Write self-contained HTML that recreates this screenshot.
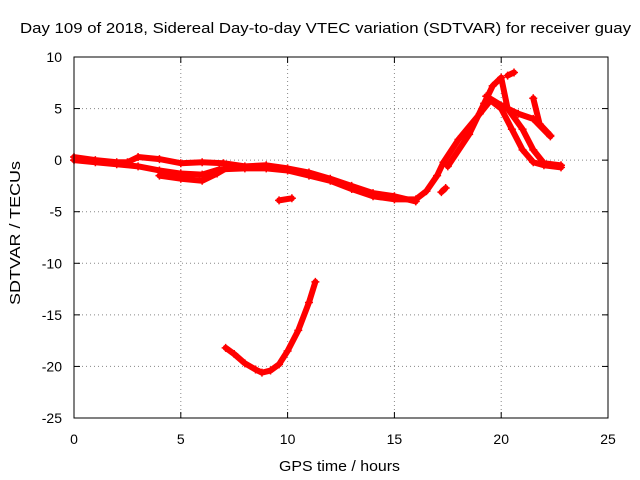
<!DOCTYPE html>
<html><head><meta charset="utf-8"><style>
body{margin:0;background:#fff}
svg{display:block;font-family:"Liberation Sans",sans-serif}
</style></head><body>
<svg id="chart" width="640" height="480" xmlns="http://www.w3.org/2000/svg">
<text x="20" y="33" font-size="14.5" textLength="611" lengthAdjust="spacingAndGlyphs">Day 109 of 2018, Sidereal Day-to-day VTEC variation (SDTVAR) for receiver guay</text>
<text x="279" y="471" font-size="14.5" textLength="121" lengthAdjust="spacingAndGlyphs">GPS time / hours</text>
<text x="0" y="0" font-size="14.5" textLength="144" lengthAdjust="spacingAndGlyphs" transform="translate(20 305) rotate(-90)">SDTVAR / TECUs</text>
<g id="grid"></g><g id="axes"></g><g id="series"></g>
<rect x="74" y="57" width="534" height="361" fill="none" stroke="#000" stroke-width="1"/>
</svg>
<script>
const xTicks=[0,5,10,15,20,25];
const yTicks=[10,5,0,-5,-10,-15,-20,-25];
const trackMain=[[0,0],[1,-0.2],[2,-0.4],[3,-0.6],[4,-1.0],[5,-1.3],[6,-1.4],[6.8,-0.9],[8,-0.8],[9,-0.8],[10,-1.0],[11,-1.5],[12,-2.0],[13,-2.8],[14,-3.5],[15,-3.8],[16,-3.8],[16.5,-3],[17,-1.5],[17.3,-0.2]];
const trackUpper=[[0,0.3],[1,0],[2,-0.2],[2.5,-0.2],[3,0.3],[4,0.1],[5,-0.3],[6,-0.2],[7,-0.3],[8,-0.6],[9,-0.5],[10,-0.8],[11,-1.2],[12,-1.8],[13,-2.5],[14,-3.2],[15,-3.5],[16,-4.0]];
const trackLower=[[4,-1.5],[5,-1.8],[6,-2.0],[6.7,-1.3],[7.2,-0.7]];
const trackShort=[[9.6,-3.9],[10.2,-3.7]];
const trackShort2=[[17.2,-3.1],[17.4,-2.7]];
const trackRise1=[[17.3,-0.2],[18,2],[19,4.5],[19.5,5.8],[20,5],[20.5,3],[21,1],[21.5,-0.2],[22,-0.5],[22.8,-0.7]];
const trackRise2=[[17.5,-0.6],[18.5,2.5],[19.2,5.5],[19.6,7.2],[20,8],[20.3,5],[21,3],[21.5,1],[22,-0.3],[22.8,-0.5]];
const trackRise3=[[19.3,6.2],[20.1,5.2],[20.8,4.5],[21.5,4.0],[22.3,2.3]];
const trackRise4=[[20.3,8.2],[20.6,8.5]];
const trackRise5=[[21.5,6],[21.8,3.5],[22.3,2.4]];
const trackCurve=[[7.1,-18.2],[7.5,-18.8],[8,-19.7],[8.5,-20.3],[8.8,-20.6],[9.2,-20.4],[9.6,-19.8],[10,-18.5],[10.5,-16.5],[11,-13.8],[11.3,-11.8]];
const tracks=[trackMain,trackUpper,trackLower,trackShort,trackShort2,trackRise1,trackRise2,trackRise3,trackRise4,trackRise5,trackCurve];
const X=v=>74+v*534/25, Y=v=>57+(10-v)*361/35;
const NS="http://www.w3.org/2000/svg";
const grid=document.getElementById('grid'),axes=document.getElementById('axes'),ser=document.getElementById('series');
function mk(t,a,p){const e=document.createElementNS(NS,t);for(const k in a)e.setAttribute(k,a[k]);p.appendChild(e);return e;}
xTicks.forEach(t=>{
 if(t>0&&t<25){const g=mk('line',{x1:X(t),x2:X(t),y1:57,y2:418,stroke:'#888','stroke-dasharray':'1,3'},grid);
 
 }
 const l=mk('text',{x:X(t),y:444,'font-size':14,'text-anchor':'middle'},axes);l.textContent=t;
 
 
 mk('line',{x1:X(t),x2:X(t),y1:418,y2:412,stroke:'#000'},axes);mk('line',{x1:X(t),x2:X(t),y1:57,y2:63,stroke:'#000'},axes);
});
yTicks.forEach(t=>{
 if(t<10&&t>-25){const g=mk('line',{x1:74,x2:608,y1:Y(t),y2:Y(t),stroke:'#888','stroke-dasharray':'1,3'},grid);
 
 }
 const l=mk('text',{x:62,y:Y(t)+5,'font-size':14,'text-anchor':'end'},axes);l.textContent=t;
 
 
 mk('line',{x1:74,x2:80,y1:Y(t),y2:Y(t),stroke:'#000'},axes);mk('line',{x1:608,x2:602,y1:Y(t),y2:Y(t),stroke:'#000'},axes);
});
tracks.forEach((tr,i)=>{
 const p=mk('polyline',{points:tr.map(d=>X(d[0])+','+Y(d[1])).join(' '),fill:'none',stroke:'#f00','stroke-width':6,'stroke-linejoin':'round','stroke-linecap':'round'},ser);
 
 
 tr.forEach(d=>{const m=mk('path',{d:`M${X(d[0])-4},${Y(d[1])}h8M${X(d[0])},${Y(d[1])-4}v8`,stroke:'#f00','stroke-width':1.5},ser);
 
 });
});
</script>
</body></html>
